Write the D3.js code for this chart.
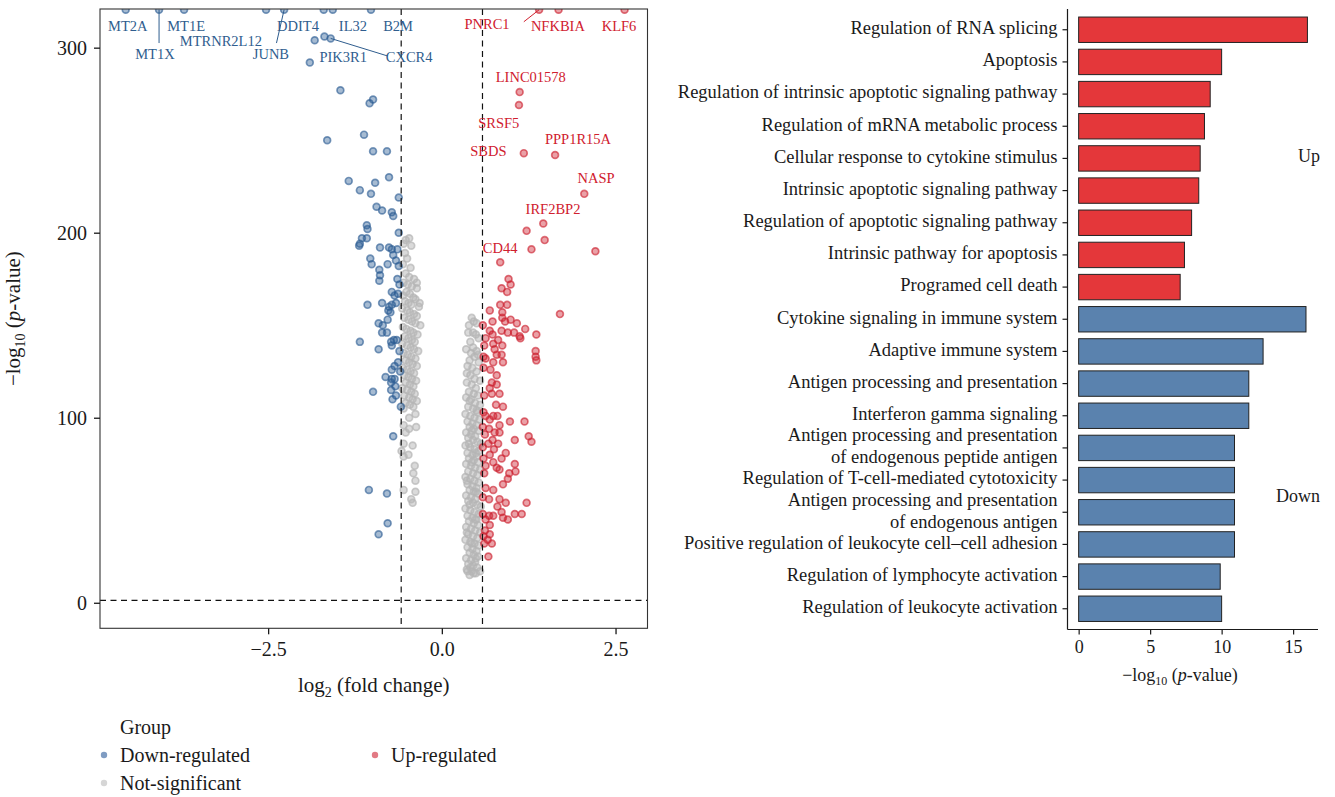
<!DOCTYPE html>
<html><head><meta charset="utf-8">
<script src="https://cdn.jsdelivr.net/npm/d3@7/dist/d3.min.js"></script>
<style>
html,body{margin:0;padding:0;background:#fff;}
svg{display:block;font-family:"Liberation Serif","Times New Roman",serif;}
</style></head>
<body><svg id="chart" width="1335" height="797"></svg>
<script>
// ---------------- Volcano data: [log2FC, -log10 p] ----------------
const downPts = [
[-4.55,320.5],[-4.07,320.5],[-3.71,320.5],[-2.53,320.5],[-2.27,320.5],[-1.70,320.5],[-1.57,320.5],[-1.02,320.5],
[-1.83,304],[-1.69,306],[-1.60,305],[-1.90,292],[-1.46,277],[-1.04,270],[-0.99,272],[-1.65,250],[-1.12,253],
[-0.99,244],[-0.79,244],[-1.34,228],[-0.96,227],[-0.76,230],[-1.18,223],[-1.02,221],[-0.62,219],[-0.94,214],
[-0.86,212],[-0.72,211],[-0.70,209],[-1.08,204],[-1.07,202],[-0.62,200],[-1.15,197],[-1.08,197],[-1.18,194],
[-1.19,193],[-0.89,192],[-0.76,192],[-0.72,191],[-0.64,191],[-0.70,188],[-0.66,185],[-1.03,186],[-1.01,183],
[-0.78,183],[-0.62,182],[-0.90,180],[-0.89,177],[-0.90,174],[-0.64,175],[-0.61,172],[-0.72,168],[-0.68,166],
[-0.63,167],[-0.66,162],[-1.07,161],[-0.86,162],[-0.76,160],[-0.74,157],[-0.72,161],[-0.77,158],[-0.91,151],
[-0.85,150],[-0.78,153],[-0.86,146],[-0.79,146],[-1.18,141],[-0.73,141],[-0.69,142],[-0.65,142],[-0.72,139],
[-0.91,137],[-0.61,136],[-0.63,130],[-0.68,128],[-0.72,126],[-0.60,125],[-0.81,122],[-0.72,121],[-0.68,121],
[-0.73,119],[-0.67,117],[-0.99,114],[-0.73,115],[-0.66,112],[-0.71,110],[-0.59,106],[-0.70,90],[-1.05,61],
[-0.79,59],[-0.78,43],[-0.91,37]
];
const upPts = [
[1.40,320.5],[1.68,320.5],[2.63,320.5],
[1.12,276],[1.11,269],[1.18,243],[1.63,242],[2.05,221],[1.46,205],[1.22,201],[1.48,196],[1.29,191],[2.21,190],
[0.84,184],[0.96,175],[0.86,170],[0.99,172],[0.94,168],[0.84,161],[0.94,161],[0.69,158],[0.87,157],[1.70,156],
[0.87,154],[0.99,153],[0.91,152],[0.73,152],[0.59,150],[1.08,151],[1.20,148],[0.86,147],[0.69,147],[1.04,146],
[0.95,146],[1.12,144],[0.63,143],[0.73,145],[1.36,145],[1.13,143],[0.81,142],[0.74,140],[0.87,139],[0.61,139],
[0.76,137],[1.35,136],[1.35,133],[1.36,131],[0.79,134],[0.86,134],[0.60,133],[0.63,132],[0.74,130],[0.88,130],
[0.60,127],[0.70,126],[0.79,123],[0.72,119],[0.79,118],[0.69,116],[0.83,113],[0.72,113],[0.61,112],[0.78,107],
[0.88,106],[0.60,103],[0.63,101],[0.74,101],[0.80,101],[0.69,99],[0.98,98],[1.19,98],[0.83,96],[0.59,95],
[0.68,94],[0.76,92],[0.83,92],[0.62,91],[1.25,90],[1.05,88],[1.29,87],[0.73,88],[0.67,86],[0.81,86],[0.59,84],
[0.75,83],[0.92,81],[0.69,80],[0.86,78],[0.60,78],[0.74,76],[1.05,75],[0.63,74],[0.79,73],[0.83,72],[0.97,70],
[1.06,71],[0.61,70],[0.95,67],[0.88,64],[0.63,62],[0.74,61],[0.59,57],[0.68,56],[0.83,56],[0.92,54],[1.22,54],
[0.80,52],[0.86,49],[0.88,46],[0.95,45],[1.05,48],[1.15,48],[0.59,48],[0.68,47],[0.74,47],[0.63,45],[0.69,42],
[0.62,39],[0.69,37],[0.60,36],[0.66,34],[0.72,32],[0.61,32],[0.67,25]
];
const nsPts = [
// left column
[-0.52,196],[-0.47,197],[-0.55,194],[-0.44,193],[-0.53,189],[-0.50,186],[-0.56,183],[-0.45,181],[-0.52,178],
[-0.47,176],[-0.40,175],[-0.55,173],[-0.36,173],[-0.49,172],[-0.43,171],[-0.36,170],[-0.51,168],[-0.46,167],[-0.56,166],
[-0.41,165],[-0.38,164],[-0.53,163],[-0.48,162],[-0.32,162],[-0.44,161],[-0.33,160],[-0.57,159],[-0.50,158],[-0.46,157],
[-0.40,156],[-0.36,155],[-0.54,154],[-0.48,153],[-0.43,152],[-0.38,151],[-0.31,150],[-0.56,149],[-0.51,148],
[-0.45,147],[-0.41,146],[-0.35,145],[-0.53,144],[-0.48,143],[-0.43,142],[-0.39,141],[-0.57,140],[-0.50,139],
[-0.45,138],[-0.40,137],[-0.34,136],[-0.55,135],[-0.49,134],[-0.44,133],[-0.38,132],[-0.52,131],[-0.47,130],
[-0.42,129],[-0.36,128],[-0.56,127],[-0.50,126],[-0.45,125],[-0.40,124],[-0.54,123],[-0.48,122],[-0.43,121],
[-0.37,120],[-0.52,119],[-0.46,118],[-0.41,117],[-0.57,116],[-0.50,115],[-0.44,114],[-0.39,113],[-0.54,112],
[-0.47,111],[-0.42,110],[-0.36,109],[-0.52,108],[-0.46,107],[-0.41,106],[-0.55,105],[-0.47,100],[-0.38,102],
[-0.55,96],[-0.47,94],[-0.37,95],[-0.52,92],[-0.55,86],[-0.42,85],[-0.58,82],[-0.48,80],[-0.55,79],[-0.39,74],
[-0.41,70],[-0.38,66],[-0.55,61],[-0.38,60],[-0.44,56],[-0.42,54],
// right column
[0.43,154],[0.46,152],[0.50,151],[0.39,150],[0.38,146],[0.45,146],[0.49,145],[0.53,143],[0.41,141],[0.35,137],
[0.45,138],[0.50,136],[0.42,135],[0.52,134],[0.40,131],[0.47,133],[0.53,130],[0.37,128],[0.44,127],[0.50,125],
[0.36,124],[0.41,123],[0.47,121],[0.55,120],[0.36,119],[0.43,118],[0.49,116],[0.39,114],[0.46,113],[0.52,112],
[0.35,111],[0.42,110],[0.40,109],[0.48,108],[0.55,107],[0.38,106],[0.45,105],[0.50,104],[0.51,103],[0.34,102],
[0.41,101],[0.47,100],[0.54,99],[0.37,98],[0.44,97],[0.50,96],[0.40,95],[0.46,94],[0.53,93],[0.43,93],[0.35,92],
[0.42,91],[0.48,90],[0.38,89],[0.45,88],[0.51,87],[0.56,86],[0.39,86],[0.34,85],[0.41,84],[0.47,83],[0.53,82],
[0.37,81],[0.49,81],[0.44,80],[0.50,79],[0.39,78],[0.46,77],[0.52,76],[0.43,76],[0.35,75],[0.42,74],[0.48,73],
[0.55,72],[0.38,71],[0.45,70],[0.51,69],[0.34,68],[0.41,67],[0.47,66],[0.36,66],[0.53,65],[0.37,64],[0.44,63],
[0.50,62],[0.40,61],[0.46,60],[0.49,60],[0.52,59],[0.35,58],[0.42,57],[0.48,56],[0.38,55],[0.45,54],[0.40,53],
[0.51,53],[0.56,52],[0.34,51],[0.41,50],[0.47,49],[0.53,48],[0.37,47],[0.44,46],[0.50,45],[0.48,45],[0.39,44],
[0.46,43],[0.52,42],[0.35,41],[0.42,40],[0.48,39],[0.55,38],[0.38,37],[0.36,38],[0.45,36],[0.51,35],[0.34,34],
[0.41,33],[0.47,32],[0.43,32],[0.53,31],[0.37,30],[0.44,29],[0.50,28],[0.40,27],[0.46,26],[0.52,25],[0.35,24],
[0.49,24],[0.42,23],[0.48,22],[0.38,21],[0.45,20],[0.51,19],[0.41,19],[0.36,18],[0.43,17],[0.37,17],[0.49,16],
[0.40,15],[0.46,16],[0.55,17]
];

// gene labels (label anchor positions in data units)
const geneNames = ["MT2A","MT1X","MT1E","MTRNR2L12","JUNB","DDIT4","IL32","B2M","PIK3R1","CXCR4",
  "PNRC1","NFKBIA","KLF6","LINC01578","SRSF5","PPP1R15A","SBDS","NASP","IRF2BP2","CD44"];
const geneGroup = ["Down","Down","Down","Down","Down","Down","Down","Down","Down","Down",
  "Up","Up","Up","Up","Up","Up","Up","Up","Up","Up"];
const geneLabX = [-4.52,-4.13,-3.68,-3.18,-2.46,-2.07,-1.28,-0.63,-1.42,-0.47,
  0.65,1.67,2.55,1.28,0.82,1.96,0.67,2.22,1.60,0.84];
const geneLabY = [311.7,296.6,311.7,303.6,296.6,311.7,311.7,311.7,295,295,
  312.8,311.7,311.7,284.3,259.5,250.5,244.3,229.4,212.6,191.6];
// leader segments: [x1,y1,x2,y2] in data units
const leaderGroup = ["Down","Down","Down","Up"];
const leaderSegs = [[-4.07,320.5,-4.07,302.5],[-2.27,320.5,-2.38,302.5],[-1.60,305,-0.78,295.5],[1.40,320.5,1.18,314]];

const fcCut = 0.585, pCut = 1.3;
const volXTicks = [-2.5, 0, 2.5];
const volYTicks = [0, 100, 200, 300];

// ---------------- Enrichment bar data ----------------
const upTerms = ["Regulation of RNA splicing","Apoptosis","Regulation of intrinsic apoptotic signaling pathway",
  "Regulation of mRNA metabolic process","Cellular response to cytokine stimulus","Intrinsic apoptotic signaling pathway",
  "Regulation of apoptotic signaling pathway","Intrinsic pathway for apoptosis","Programed cell death"];
const upValues = [16.0,10.0,9.2,8.8,8.5,8.4,7.9,7.4,7.1];
const downTerms = ["Cytokine signaling in immune system","Adaptive immune system","Antigen processing and presentation",
  "Interferon gamma signaling","Antigen processing and presentation\nof endogenous peptide antigen",
  "Regulation of T-cell-mediated cytotoxicity","Antigen processing and presentation\nof endogenous antigen",
  "Positive regulation of leukocyte cell\u2013cell adhesion","Regulation of lymphocyte activation",
  "Regulation of leukocyte activation"];
const downValues = [15.9,12.9,11.9,11.9,10.9,10.9,10.9,10.9,9.9,10.0];
const barXTicks = [0,5,10,15];

// ---------------- Drawing ----------------
const svg = d3.select("#chart");
svg.append("rect").attr("width",1335).attr("height",797).attr("fill","#fff");
const ink = "#1a1a1a";
const col = {Down:"#2B5C93", Up:"#CC1F2D", NS:"#B5B5B5"};
const labCol = {Down:"#2F5D8E", Up:"#D0202E"};

// Volcano
const P = {l:100, r:647.5, t:9, b:628.3};
const vx = d3.scaleLinear().domain([-4.92, 2.96]).range([P.l, P.r]);
const vy = d3.scaleLinear().domain([-13.8, 320.9]).range([P.b, P.t]);

svg.append("clipPath").attr("id","vclip").append("rect")
  .attr("x",P.l).attr("y",P.t).attr("width",P.r-P.l).attr("height",P.b-P.t);
const vg = svg.append("g").attr("clip-path","url(#vclip)");

function drawPts(data, c, fo, so){
  vg.append("g").selectAll("circle").data(data).join("circle")
    .attr("cx",d=>vx(d[0])).attr("cy",d=>vy(d[1])).attr("r",3.4)
    .attr("fill",c).attr("fill-opacity",fo)
    .attr("stroke",c).attr("stroke-opacity",so).attr("stroke-width",1.7);
}
drawPts(nsPts, col.NS, 0.5, 0.7);
drawPts(downPts, col.Down, 0.42, 0.62);
drawPts(upPts, col.Up, 0.42, 0.62);

// threshold lines
const dash = "6,4.5";
[-fcCut, fcCut].forEach(v=>{
  vg.append("line").attr("x1",vx(v)).attr("x2",vx(v)).attr("y1",P.t).attr("y2",P.b)
    .attr("stroke","#111").attr("stroke-width",1.2).attr("stroke-dasharray",dash);
});
vg.append("line").attr("x1",P.l).attr("x2",P.r).attr("y1",vy(pCut)).attr("y2",vy(pCut))
  .attr("stroke","#111").attr("stroke-width",1.2).attr("stroke-dasharray",dash);

// leader lines
leaderSegs.forEach((s,i)=>{
  vg.append("line").attr("x1",vx(s[0])).attr("y1",vy(s[1])).attr("x2",vx(s[2])).attr("y2",vy(s[3]))
    .attr("stroke",labCol[leaderGroup[i]]).attr("stroke-width",1);
});
// gene labels
svg.append("g").selectAll("text").data(geneNames).join("text")
  .attr("x",(d,i)=>vx(geneLabX[i])).attr("y",(d,i)=>vy(geneLabY[i]))
  .attr("text-anchor","middle").attr("dominant-baseline","central")
  .attr("font-size",14.5).attr("fill",(d,i)=>labCol[geneGroup[i]]).text(d=>d);

// frame
svg.append("rect").attr("x",P.l).attr("y",P.t).attr("width",P.r-P.l).attr("height",P.b-P.t)
  .attr("fill","none").attr("stroke","#333").attr("stroke-width",1.1);

// axes
const vxa = svg.append("g").attr("transform",`translate(0,${P.b})`)
  .call(d3.axisBottom(vx).tickValues(volXTicks).tickSize(6).tickPadding(8)
    .tickFormat(d=>d3.format(".1f")(d).replace("-","\u2212")));
const vya = svg.append("g").attr("transform",`translate(${P.l},0)`)
  .call(d3.axisLeft(vy).tickValues(volYTicks).tickSize(6).tickPadding(7));
[vxa,vya].forEach(a=>{
  a.select(".domain").remove();
  a.selectAll(".tick line").attr("stroke",ink).attr("stroke-width",1.3);
  a.selectAll("text").attr("font-family","Liberation Serif").attr("font-size",20).attr("fill",ink);
});

// axis titles
const xt = svg.append("text").attr("x",(P.l+P.r)/2).attr("y",692).attr("text-anchor","middle")
  .attr("font-size",21).attr("fill",ink);
xt.append("tspan").text("log");
xt.append("tspan").attr("font-size",14).attr("dy",5).text("2");
xt.append("tspan").attr("dy",-5).text(" (fold change)");

const yt = svg.append("text").attr("transform",`translate(20,${(P.t+P.b)/2}) rotate(-90)`)
  .attr("text-anchor","middle").attr("font-size",21).attr("fill",ink);
yt.append("tspan").text("\u2212log");
yt.append("tspan").attr("font-size",14).attr("dy",5).text("10");
yt.append("tspan").attr("dy",-5).text(" (");
yt.append("tspan").attr("font-style","italic").text("p");
yt.append("tspan").text("-value)");

// legend
const lg = svg.append("g").attr("font-size",20).attr("fill",ink);
lg.append("text").attr("x",120).attr("y",727).attr("dominant-baseline","central").text("Group");
const legItems = [
  {lab:"Down-regulated", c:"#7F9CC2", x:104, y:755},
  {lab:"Not-significant", c:"#D6D6D6", x:104, y:783},
  {lab:"Up-regulated", c:"#E27A84", x:375, y:755}
];
legItems.forEach(it=>{
  lg.append("circle").attr("cx",it.x).attr("cy",it.y).attr("r",3.2).attr("fill",it.c);
  lg.append("text").attr("x",it.x+16).attr("y",it.y).attr("dominant-baseline","central").text(it.lab);
});

// ---------------- Bar chart ----------------
const terms = upTerms.concat(downTerms);
const vals = upValues.concat(downValues);
const grp = upTerms.map(()=>"Up").concat(downTerms.map(()=>"Down"));
const B = {l:1067.5, r:1318, t:9, b:629.5};
const bx = d3.scaleLinear().domain([-0.78, 16.74]).range([B.l, B.r]);
const by = d3.scaleBand().domain(terms).range([B.t, B.b]).paddingInner(0.21).paddingOuter(0.25);
const barCol = {Up:"#E4373A", Down:"#5A82AE"};

svg.append("g").selectAll("rect").data(terms).join("rect")
  .attr("x",bx(0)).attr("y",d=>by(d)).attr("height",by.bandwidth())
  .attr("width",(d,i)=>bx(vals[i])-bx(0))
  .attr("fill",(d,i)=>barCol[grp[i]]).attr("stroke","#222").attr("stroke-width",1);

// axis lines
svg.append("line").attr("x1",B.l).attr("x2",B.l).attr("y1",B.t).attr("y2",B.b).attr("stroke",ink).attr("stroke-width",1.2);
svg.append("line").attr("x1",B.l).attr("x2",B.r).attr("y1",B.b).attr("y2",B.b).attr("stroke",ink).attr("stroke-width",1.2);

const bya = svg.append("g").attr("transform",`translate(${B.l},0)`)
  .call(d3.axisLeft(by).tickSize(5).tickPadding(8).tickFormat(""));
bya.select(".domain").remove();
bya.selectAll(".tick line").attr("stroke",ink).attr("stroke-width",1.2);
bya.selectAll(".tick").each(function(d){
  const lines = d.split("\n");
  const t = d3.select(this).append("text").attr("x",-10).attr("text-anchor","end")
    .attr("font-family","Liberation Serif").attr("font-size",18.5).attr("fill",ink);
  const lh = 22;
  lines.forEach((ln,k)=>{
    t.append("tspan").attr("x",-10).attr("y",(k-(lines.length-1)/2)*lh - 2).attr("dy","0.34em").text(ln);
  });
});

const bxa = svg.append("g").attr("transform",`translate(0,${B.b})`)
  .call(d3.axisBottom(bx).tickValues(barXTicks).tickSize(5).tickPadding(6));
bxa.select(".domain").remove();
bxa.selectAll(".tick line").attr("stroke",ink).attr("stroke-width",1.2);
bxa.selectAll("text").attr("font-family","Liberation Serif").attr("font-size",18).attr("fill",ink);

const bt = svg.append("text").attr("x",1180).attr("y",681).attr("text-anchor","middle")
  .attr("font-size",18).attr("fill",ink);
bt.append("tspan").text("\u2212log");
bt.append("tspan").attr("font-size",12).attr("dy",4).text("10");
bt.append("tspan").attr("dy",-4).text(" (");
bt.append("tspan").attr("font-style","italic").text("p");
bt.append("tspan").text("-value)");

// group labels
svg.append("text").attr("x",B.r+2).attr("y",by(upTerms[4])+by.bandwidth()/2-2)
  .attr("text-anchor","end").attr("dominant-baseline","central").attr("font-size",18).attr("fill",ink).text("Up");
svg.append("text").attr("x",B.r+2).attr("y",(by(downTerms[5])+by(downTerms[6]))/2+by.bandwidth()/2)
  .attr("text-anchor","end").attr("dominant-baseline","central").attr("font-size",18).attr("fill",ink).text("Down");
</script></body></html>
